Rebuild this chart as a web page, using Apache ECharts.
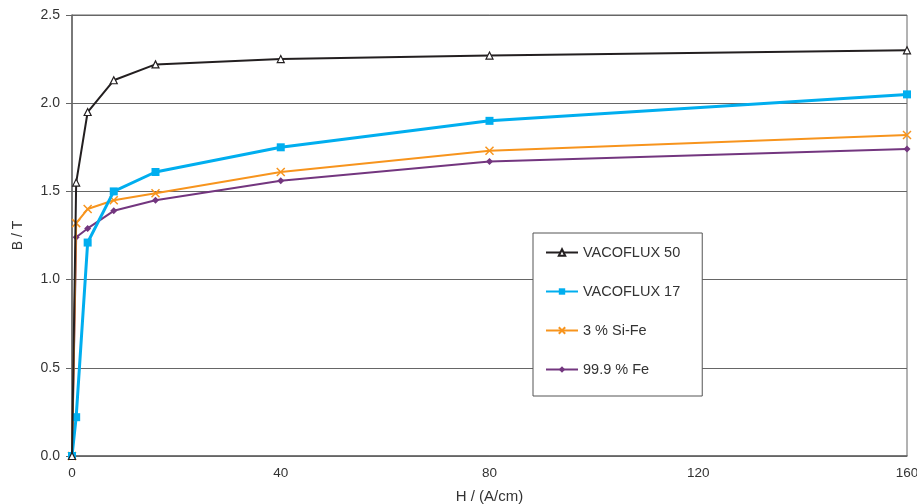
<!DOCTYPE html>
<html>
<head>
<meta charset="utf-8">
<script src="https://cdn.jsdelivr.net/npm/echarts@6/dist/echarts.min.js"></script>
<style>html,body{margin:0;padding:0;background:#fff;}#c{width:917px;height:504px;}</style>
</head>
<body>
<div id="c"></div>
<script>
const H = [0, 0.8, 3, 8, 16, 40, 80, 160];
const vacoflux50 = [0, 1.55, 1.95, 2.13, 2.22, 2.25, 2.27, 2.30];
const vacoflux17 = [0, 0.22, 1.21, 1.50, 1.61, 1.75, 1.90, 2.05];
const siFe3 = [0, 1.32, 1.40, 1.45, 1.49, 1.61, 1.73, 1.82];
const fe999 = [0, 1.24, 1.29, 1.39, 1.45, 1.56, 1.67, 1.74];
const seriesNames = ['VACOFLUX 50', 'VACOFLUX 17', '3 % Si-Fe', '99.9 % Fe'];
const yTicks = [0, 0.5, 1.0, 1.5, 2.0, 2.5];
const xTicks = [0, 40, 80, 120, 160];

const pair = arr => H.map((h, i) => [h, arr[i]]);
const font = 'Liberation Sans, Arial, sans-serif';
const chart = echarts.init(document.getElementById('c'));
chart.setOption({
  animation: false,
  backgroundColor: '#fff',
  grid: { left: 72, right: 10, top: 15, bottom: 48, show: true, borderColor: '#666', borderWidth: 1, outerBoundsMode: 'none', containLabel: false },
  xAxis: {
    type: 'value', min: xTicks[0], max: xTicks[xTicks.length - 1], interval: 40,
    name: 'H / (A/cm)', nameLocation: 'middle', nameGap: 33,
    nameTextStyle: { fontFamily: font, fontSize: 15, color: '#333' },
    axisLine: { show: true, lineStyle: { color: '#666', width: 1.5 } },
    axisTick: { show: false },
    splitLine: { show: false },
    axisLabel: { fontFamily: font, fontSize: 13.5, color: '#333', margin: 10 }
  },
  yAxis: {
    type: 'value', min: yTicks[0], max: yTicks[yTicks.length - 1], interval: 0.5,
    name: 'B / T', nameLocation: 'middle', nameGap: 47, nameRotate: 90,
    nameTextStyle: { fontFamily: font, fontSize: 14, color: '#333' },
    axisLine: { show: true, lineStyle: { color: '#666', width: 1.5 } },
    axisTick: { show: true, inside: false, length: 6, lineStyle: { color: '#666' } },
    splitLine: { show: true, lineStyle: { color: '#666', width: 1.2 } },
    axisLabel: { fontFamily: font, fontSize: 14, color: '#333', margin: 12, formatter: v => v.toFixed(1) }
  },
  legend: {
    data: seriesNames,
    orient: 'vertical',
    left: 533, top: 233,
    padding: [12, 22, 19, 12],
    itemGap: 24,
    itemWidth: 32, itemHeight: 8,
    backgroundColor: '#fff',
    borderColor: '#555', borderWidth: 1,
    textStyle: { fontFamily: font, fontSize: 14.5, color: '#333' }
  },
  series: [
    {
      name: seriesNames[3], type: 'line', data: pair(fe999), z: 2,
      symbol: 'diamond', symbolSize: 7,
      lineStyle: { color: '#73367f', width: 2 },
      itemStyle: { color: '#73367f' }
    },
    {
      name: seriesNames[2], type: 'line', data: pair(siFe3), z: 3,
      symbol: 'path://M0,0L10,10M10,0L0,10', symbolSize: 8,
      lineStyle: { color: '#f7941d', width: 2 },
      itemStyle: { color: 'rgba(0,0,0,0)', borderColor: '#f7941d', borderWidth: 1.5 }
    },
    {
      name: seriesNames[1], type: 'line', data: pair(vacoflux17), z: 4,
      symbol: 'rect', symbolSize: 8,
      lineStyle: { color: '#00aeef', width: 3 },
      itemStyle: { color: '#00aeef' }
    },
    {
      name: seriesNames[0], type: 'line', data: pair(vacoflux50), z: 5,
      symbol: 'triangle', symbolSize: 7,
      lineStyle: { color: '#231f20', width: 2 },
      itemStyle: { color: '#fff', borderColor: '#231f20', borderWidth: 1.2 }
    }
  ]
});
</script>
</body>
</html>
